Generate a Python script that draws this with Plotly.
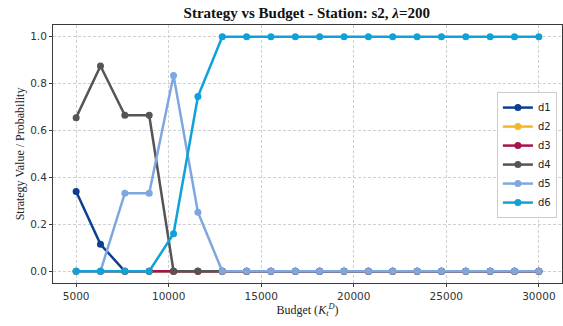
import numpy as np
import plotly.graph_objects as go

budget = [5000, 6316, 7632, 8947, 10263, 11579, 12895, 14211, 15526, 16842,
          18158, 19474, 20789, 22105, 23421, 24737, 26053, 27368, 28684, 30000]
d1 = [0.34, 0.115, 0, 0, 0, 0, 0, 0, 0, 0, 0, 0, 0, 0, 0, 0, 0, 0, 0, 0]
d2 = [0] * 20
d3 = [0] * 20
d4 = [0.655, 0.875, 0.665, 0.665, 0, 0, 0, 0, 0, 0, 0, 0, 0, 0, 0, 0, 0, 0, 0, 0]
d5 = [0, 0, 0.333, 0.333, 0.835, 0.252, 0, 0, 0, 0, 0, 0, 0, 0, 0, 0, 0, 0, 0, 0]
d6 = [0, 0, 0, 0, 0.16, 0.745, 1, 1, 1, 1, 1, 1, 1, 1, 1, 1, 1, 1, 1, 1]

x_ticks = [5000, 10000, 15000, 20000, 25000, 30000]
x_ticktext = ["5000", "10000", "15000", "20000", "25000", "30000"]
y_ticks = [0, 0.2, 0.4, 0.6, 0.8, 1.0]
y_ticktext = ["0.0", "0.2", "0.4", "0.6", "0.8", "1.0"]

names = ["d1", "d2", "d3", "d4", "d5", "d6"]
series = [d1, d2, d3, d4, d5, d6]
colors = ["#0b3f8f", "#f6b625", "#a5134a", "#555558", "#7ea7e0", "#0ea2d8"]

fig = go.Figure()
for n, s, c in zip(names, series, colors):
    fig.add_trace(go.Scatter(x=budget, y=s, name=n, mode="lines+markers",
                             line=dict(color=c, width=2.5),
                             marker=dict(color=c, size=7)))

axis_common = dict(showline=True, mirror=True, linecolor="#3a3a3a", linewidth=1,
                   showgrid=True, gridcolor="#d0d0d0", gridwidth=0.8, griddash="3px,2px",
                   ticks="outside", ticklen=3, tickcolor="#3a3a3a", zeroline=False,
                   tickfont=dict(family="DejaVu Sans", size=10.5, color="#333333"))

fig.update_layout(
    width=563, height=326,
    margin=dict(l=53, r=1, t=25, b=43),
    paper_bgcolor="white", plot_bgcolor="white",
    title=dict(text="<b>Strategy vs Budget - Station: s2, <i>λ</i>=200</b>",
               x=0.545, xanchor="center", y=0.962, yanchor="middle",
               font=dict(family="Liberation Serif", size=15, color="#111111")),
    xaxis=dict(range=[3750, 31250], tickvals=x_ticks, ticktext=x_ticktext,
               title=dict(text="Budget (<i>K<sub>t</sub><sup>D</sup></i>)", standoff=4,
                          font=dict(family="Liberation Serif", size=12, color="#222222")),
               **axis_common),
    yaxis=dict(range=[-0.05, 1.05], tickvals=y_ticks, ticktext=y_ticktext,
               title=dict(text="Strategy Value / Probability", standoff=2,
                          font=dict(family="Liberation Serif", size=12, color="#222222")),
               **axis_common),
    legend=dict(x=0.99, y=0.74, xanchor="right", yanchor="top",
                bgcolor="rgba(255,255,255,0.85)", bordercolor="#cccccc", borderwidth=1,
                font=dict(family="DejaVu Sans", size=10, color="#222222"),
                tracegroupgap=0, itemwidth=30),
    showlegend=True,
)

fig.write_html("out.html")
